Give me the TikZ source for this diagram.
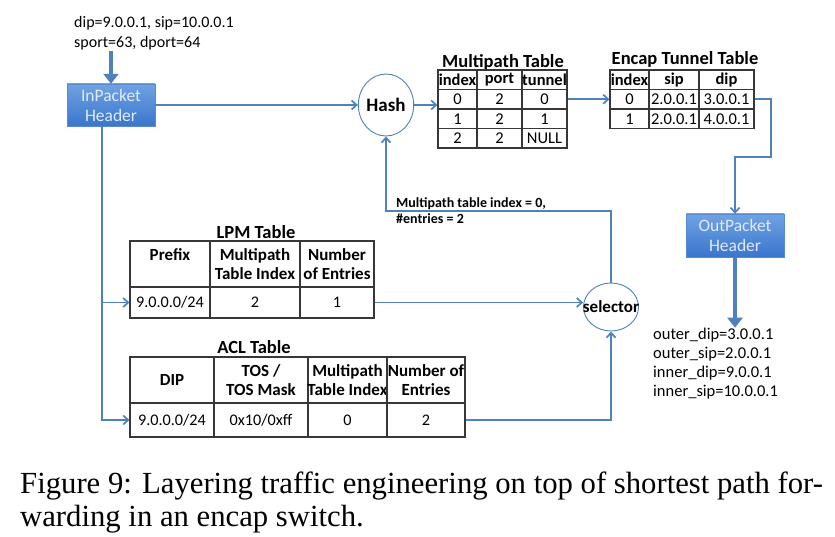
\documentclass[tikz,border=0pt]{standalone}
\usepackage{fontspec}
\setmainfont{Carlito}
\newfontfamily\capfont{Liberation Serif}
\usepackage{tikz}
\usetikzlibrary{shapes,arrows.meta}
\definecolor{linkblue}{RGB}{79,129,189}
\definecolor{boxtop}{RGB}{112,162,228}
\definecolor{boxbot}{RGB}{58,118,204}
\definecolor{boxedge}{RGB}{88,138,205}
\definecolor{boxtext}{RGB}{225,234,248}
\definecolor{gridgray}{RGB}{55,55,55}
\tikzstyle{link}=[draw=linkblue, line width=1.7pt, -{Straight Barb[length=5pt,width=9pt]}]
\tikzstyle{fat}=[draw=linkblue, line width=3.8pt, -{Triangle[length=10pt,width=15pt]}]
\tikzstyle{hdr}=[rectangle, draw=boxedge, top color=boxtop, bottom color=boxbot, text=boxtext, align=center, inner sep=0pt, font=\fontsize{17.5}{20}\selectfont]
\tikzstyle{op}=[ellipse, draw=linkblue, fill=white, line width=0.9pt, inner sep=0pt, font=\bfseries\fontsize{19}{20}\selectfont]
\tikzstyle{cell}=[rectangle, draw=gridgray, line width=1.1pt, inner sep=0pt, align=center]
\tikzstyle{ttl}=[font=\bfseries\fontsize{18.5}{20}\selectfont]
\tikzstyle{txt}=[align=left, inner sep=0pt, font=\fontsize{16}{20}\selectfont]

\begin{document}
\begin{tikzpicture}[x=1pt, y=-1pt]
\useasboundingbox (0,0) rectangle (835,537);

% packet headers and operators
\node[txt, anchor=west] (inpkt) at (74,33.5) {dip=9.0.0.1, sip=10.0.0.1\\sport=63, dport=64};
\node[hdr, minimum width=88, minimum height=42] (inhdr) at (111,105) {InPacket\\Header};
\node[op, minimum width=55, minimum height=62] (hash) at (386,105) {Hash};
\node[op, minimum width=55, minimum height=48, font=\bfseries\fontsize{17}{18}\selectfont] (sel) at (611,307) {\makebox[0pt]{selector}};
\node[hdr, minimum width=98, minimum height=43] (outhdr) at (735,235.5) {OutPacket\\Header};
\node[txt, anchor=west, font=\fontsize{16.5}{19}\selectfont] (outpkt) at (653,363.5) {outer\_dip=3.0.0.1\\outer\_sip=2.0.0.1\\inner\_dip=9.0.0.1\\inner\_sip=10.0.0.1};
\node[txt, anchor=west, font=\bfseries\fontsize{14}{16}\selectfont] (note) at (396,211) {Multipath table index = 0,\\\#entries = 2};

% multipath table
\node[ttl] (mpt) at (503,62) {Multipath Table};
\foreach \txt/\x/\w [count=\j] in {index/457.5/39, port/499.5/45, tunnel/544.5/45}
  \node[cell, minimum width=\w, minimum height=19.5, font=\bfseries\fontsize{16.5}{18}\selectfont] (mp-0-\j) at (\x,79.75) {\txt};
\foreach \y/\a/\b/\c [count=\i] in {99.25/0/2/0, 118.75/1/2/1, 138.25/2/2/NULL}
  \foreach \txt/\x/\w [count=\j] in {\a/457.5/39, \b/499.5/45, \c/544.5/45}
    \node[cell, minimum width=\w, minimum height=19.5, font=\fontsize{16.5}{18}\selectfont] (mp-\i-\j) at (\x,\y) {\txt};

% encap tunnel table
\node[ttl] (ett) at (685,59) {Encap Tunnel Table};
\foreach \txt/\x/\w [count=\j] in {index/629.5/39, sip/674/50, dip/726.5/55}
  \node[cell, minimum width=\w, minimum height=19.5, font=\bfseries\fontsize{16.5}{18}\selectfont] (en-0-\j) at (\x,79.75) {\txt};
\foreach \y/\a/\b/\c [count=\i] in {99.25/0/2.0.0.1/3.0.0.1, 118.75/1/2.0.0.1/4.0.0.1}
  \foreach \txt/\x/\w [count=\j] in {\a/629.5/39, \b/674/50, \c/726.5/55}
    \node[cell, minimum width=\w, minimum height=19.5, font=\fontsize{16.5}{18}\selectfont] (en-\i-\j) at (\x,\y) {\txt};

% LPM table
\node[ttl] (lpmt) at (256,232) {LPM Table};
\foreach \txt/\x/\w [count=\j] in {{Prefix\\\mbox{}}/170/80, {Multipath\\Table Index}/255/90, {Number\\of Entries}/337/74}
  \node[cell, minimum width=\w, minimum height=46, font=\bfseries\fontsize{17}{19}\selectfont] (lpm-0-\j) at (\x,264) {\txt};
\foreach \txt/\x/\w [count=\j] in {{9.0.0.0/24}/170/80, 2/255/90, 1/337/74}
  \node[cell, minimum width=\w, minimum height=31, font=\fontsize{16.2}{18}\selectfont] (lpm-1-\j) at (\x,302.5) {\txt};

% ACL table
\node[ttl] (aclt) at (254,347) {ACL Table};
\foreach \txt/\x/\w [count=\j] in {DIP/172/84, {TOS /\\TOS Mask}/261/94, {Multipath\\Table Index}/347.5/79, {Number of\\Entries}/426/78}
  \node[cell, minimum width=\w, minimum height=46, font=\bfseries\fontsize{17}{19}\selectfont] (acl-0-\j) at (\x,380) {\txt};
\foreach \txt/\x/\w [count=\j] in {{9.0.0.0/24}/172/84, {0x10/0xff}/261/94, 0/347.5/79, 2/426/78}
  \node[cell, minimum width=\w, minimum height=34, font=\fontsize{16.2}{18}\selectfont] (acl-1-\j) at (\x,420) {\txt};

% connectors
\draw[fat] (inpkt.south -| inhdr.north) -- (inhdr.north);
\draw[link] (inhdr.east) -- (hash.west);
\draw[link] (hash.east) -- (hash.east -| mp-1-1.west);
\draw[link] (mp-1-3.east) -- (en-1-1.west);
\coordinate (bend) at (771,157);
\draw[link] (en-1-3.east) -| (bend) -| (outhdr.north);
\draw[fat] (outhdr.south) -- (outpkt.north -| outhdr.south);
\draw[link] ([xshift=-9pt]inhdr.south) |- (acl-1-1.west);
\draw[link] ([xshift=-9pt]inhdr.south) |- (lpm-1-1.west);
\draw[link] (lpm-1-3.east) -- (lpm-1-3.east -| sel.west);
\draw[link] (acl-1-4.east) -| (sel.south);
\coordinate (turn) at (611,211);
\draw[link] (sel.north) -- (turn) -| (hash.south);

% caption
\node[anchor=base west, inner sep=0pt, font=\capfont\fontsize{30.7}{33}\selectfont] (cap1) at (20,493) {Figure 9: Layering traffic engineering on top of shortest path for-};
\node[anchor=base west, inner sep=0pt, font=\capfont\fontsize{30.7}{33}\selectfont] (cap2) at (20,526) {warding in an encap switch.};
\end{tikzpicture}
\end{document}
